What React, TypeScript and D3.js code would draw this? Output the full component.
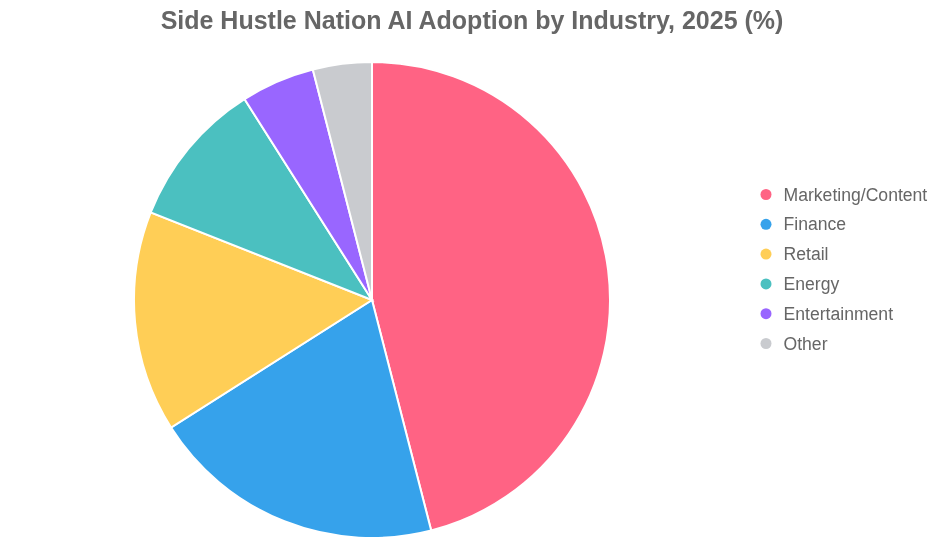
import React, { useRef, useEffect } from 'react';
import * as d3 from 'd3';

const categories = ['Marketing/Content', 'Finance', 'Retail', 'Energy', 'Entertainment', 'Other'];
const values = [46, 20, 15, 10, 5, 4];
const colors = ['#FF6384', '#36A2EB', '#FFCE56', '#4BC0C0', '#9966FF', '#C9CBCF'];
const title = 'Side Hustle Nation AI Adoption by Industry, 2025 (%)';

const width = 939;
const height = 542;

const App: React.FC = () => {
  const svgRef = useRef<SVGSVGElement>(null);

  useEffect(() => {
    if (!svgRef.current) return;
    const svg = d3.select(svgRef.current);
    svg.selectAll('*').remove();

    const font = 'Arial, "Liberation Sans", Helvetica, sans-serif';
    const cx = 372;
    const cy = 300;
    const radius = 238;

    // Title
    svg
      .append('text')
      .attr('x', 472)
      .attr('y', 29)
      .attr('text-anchor', 'middle')
      .attr('font-family', font)
      .attr('font-size', '25px')
      .attr('font-weight', 'bold')
      .attr('fill', '#666')
      .text(title);

    const data = categories.map((c, i) => ({ label: c, value: values[i] }));

    const color = d3.scaleOrdinal<string, string>().domain(categories).range(colors);

    const pie = d3
      .pie<{ label: string; value: number }>()
      .value((d) => d.value)
      .sort(null);

    const arc = d3
      .arc<d3.PieArcDatum<{ label: string; value: number }>>()
      .innerRadius(0)
      .outerRadius(radius);

    const g = svg.append('g').attr('transform', `translate(${cx},${cy})`);

    g.selectAll('path')
      .data(pie(data))
      .enter()
      .append('path')
      .attr('d', arc)
      .attr('fill', (d) => color(d.data.label))
      .attr('stroke', '#fff')
      .attr('stroke-width', 2);

    // Legend
    const legend = svg
      .append('g')
      .selectAll('g')
      .data(categories)
      .enter()
      .append('g')
      .attr('transform', (d, i) => `translate(766,${194.5 + i * 29.8})`);

    legend
      .append('circle')
      .attr('r', 5.5)
      .attr('fill', (d) => color(d));

    legend
      .append('text')
      .attr('x', 17.5)
      .attr('y', 6)
      .attr('font-family', font)
      .attr('font-size', '17.6px')
      .attr('fill', '#666')
      .text((d) => d);
  }, []);

  return (
    <div style={{ position: 'fixed', left: 0, top: 0 }}>
      <svg ref={svgRef} width={width} height={height} style={{ display: 'block' }} />
    </div>
  );
};

export default App;
